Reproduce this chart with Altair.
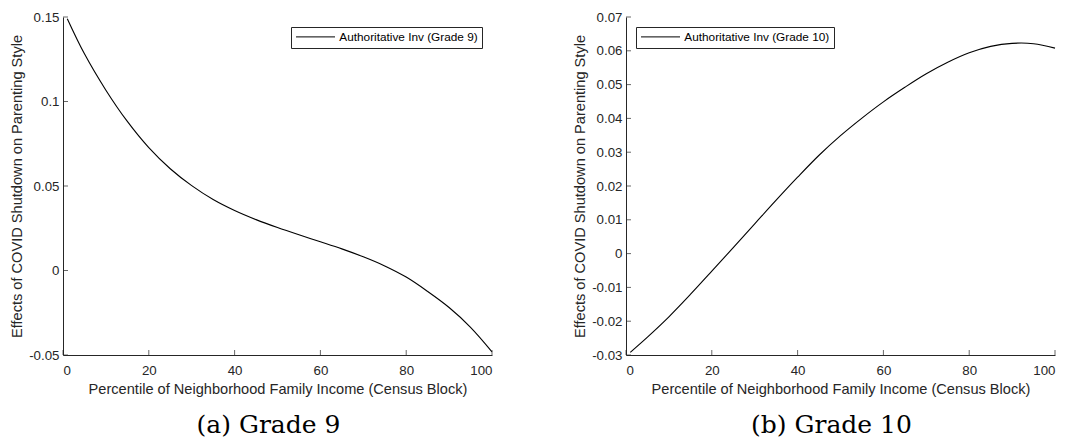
import altair as alt
import pandas as pd

# ---- data ----
pct_points = [1, 5, 10, 15, 20, 25, 30, 35, 40, 45, 50, 55, 60, 65, 70, 75, 80, 85, 90, 95, 100]
grade9_effect = [0.149, 0.1282, 0.1067, 0.0882, 0.0727, 0.0602, 0.0502, 0.0420, 0.0355, 0.0301,
                 0.0254, 0.0211, 0.0170, 0.0128, 0.0081, 0.0027, -0.0039, -0.0124, -0.0219,
                 -0.0336, -0.0481]
grade10_effect = [-0.0292, -0.0247, -0.0187, -0.0121, -0.0052, 0.0018, 0.0088, 0.0158, 0.0226,
                  0.0291, 0.0349, 0.0401, 0.0449, 0.0492, 0.0532, 0.0566, 0.0594, 0.0613,
                  0.0622, 0.0621, 0.0608]
x_ticks = [0, 20, 40, 60, 80, 100]
y_ticks_g9 = [-0.05, 0, 0.05, 0.1, 0.15]
y_ticks_g10 = [-0.03, -0.02, -0.01, 0, 0.01, 0.02, 0.03, 0.04, 0.05, 0.06, 0.07]
series_g9 = "Authoritative Inv (Grade 9)"
series_g10 = "Authoritative Inv (Grade 10)"
x_title = "Percentile of Neighborhood Family Income (Census Block)"
y_title = "Effects of COVID Shutdown on Parenting Style"
captions = ["(a) Grade 9", "(b) Grade 10"]

AXIS = "#262626"
SANS = "Liberation Sans"


def panel(effects, yticks, series, caption, legend_orient):
    df = pd.DataFrame({"pct": pct_points, "effect": effects, "series": [series] * len(pct_points)})
    xs = alt.Scale(domain=[min(x_ticks), max(x_ticks)], nice=False, zero=False)
    ys = alt.Scale(domain=[min(yticks), max(yticks)], nice=False, zero=False)
    x_axis = alt.Axis(values=x_ticks, title=x_title, labelExpr="'' + datum.value",
                      labelPadding=8, titlePadding=5)
    y_axis = alt.Axis(values=yticks, title=y_title, labelExpr="'' + datum.value",
                      labelPadding=4, titlePadding=4)

    line = alt.Chart(df).mark_line(interpolate="catmull-rom", strokeWidth=1.1).encode(
        x=alt.X("pct:Q", scale=xs, axis=x_axis),
        y=alt.Y("effect:Q", scale=ys, axis=y_axis),
        color=alt.Color("series:N", scale=alt.Scale(range=["#000000"]),
                        legend=alt.Legend(title=None, orient=legend_orient, offset=10,
                                          symbolType="M-1,0H7", symbolSize=95,
                                          symbolStrokeWidth=1, symbolStrokeColor="#000000",
                                          symbolFillColor="transparent",
                                          labelFont=SANS, labelFontSize=11.8, labelColor="#000000",
                                          labelOffset=32.5, strokeColor=AXIS, fillColor="white",
                                          padding=4, cornerRadius=0)),
    )
    xt = alt.Chart(pd.DataFrame({"v": x_ticks})).mark_tick(
        orient="vertical", size=5, thickness=1, color=AXIS, yOffset=-2.5
    ).encode(x=alt.X("v:Q", scale=xs, axis=x_axis, title=x_title),
             y=alt.YDatum(min(yticks), axis=y_axis, title=y_title))
    yt = alt.Chart(pd.DataFrame({"v": yticks})).mark_tick(
        orient="horizontal", size=5, thickness=1, color=AXIS, xOffset=2.5
    ).encode(y=alt.Y("v:Q", scale=ys, axis=y_axis, title=y_title),
             x=alt.XDatum(min(x_ticks), axis=x_axis, title=x_title))

    return alt.layer(line, xt, yt).properties(
        width=429, height=338,
        title=alt.TitleParams(caption, orient="bottom", anchor="middle", frame="group",
                              font="DejaVu Serif", fontSize=25, fontWeight="normal",
                              color="#000000", offset=17, dx=-9),
    )


left = panel(grade9_effect, y_ticks_g9, series_g9, captions[0], "top-right")
right = panel(grade10_effect, y_ticks_g10, series_g10, captions[1], "top-left")

chart = alt.hconcat(left, right, spacing=77).resolve_scale(
    x="independent", y="independent", color="independent"
).resolve_legend(color="independent").properties(
    padding={"left": 1, "top": 2, "right": 0, "bottom": 0}
).configure_view(stroke=None).configure_axis(
    grid=False, ticks=False, tickSize=0, domainColor=AXIS, domainWidth=1,
    labelColor=AXIS, titleColor=AXIS, labelFont=SANS, titleFont=SANS,
    labelFontSize=13.3, titleFontSize=14.6, titleFontWeight="normal",
)

chart.save("out.html", embed_options={"renderer": "svg", "actions": False})
